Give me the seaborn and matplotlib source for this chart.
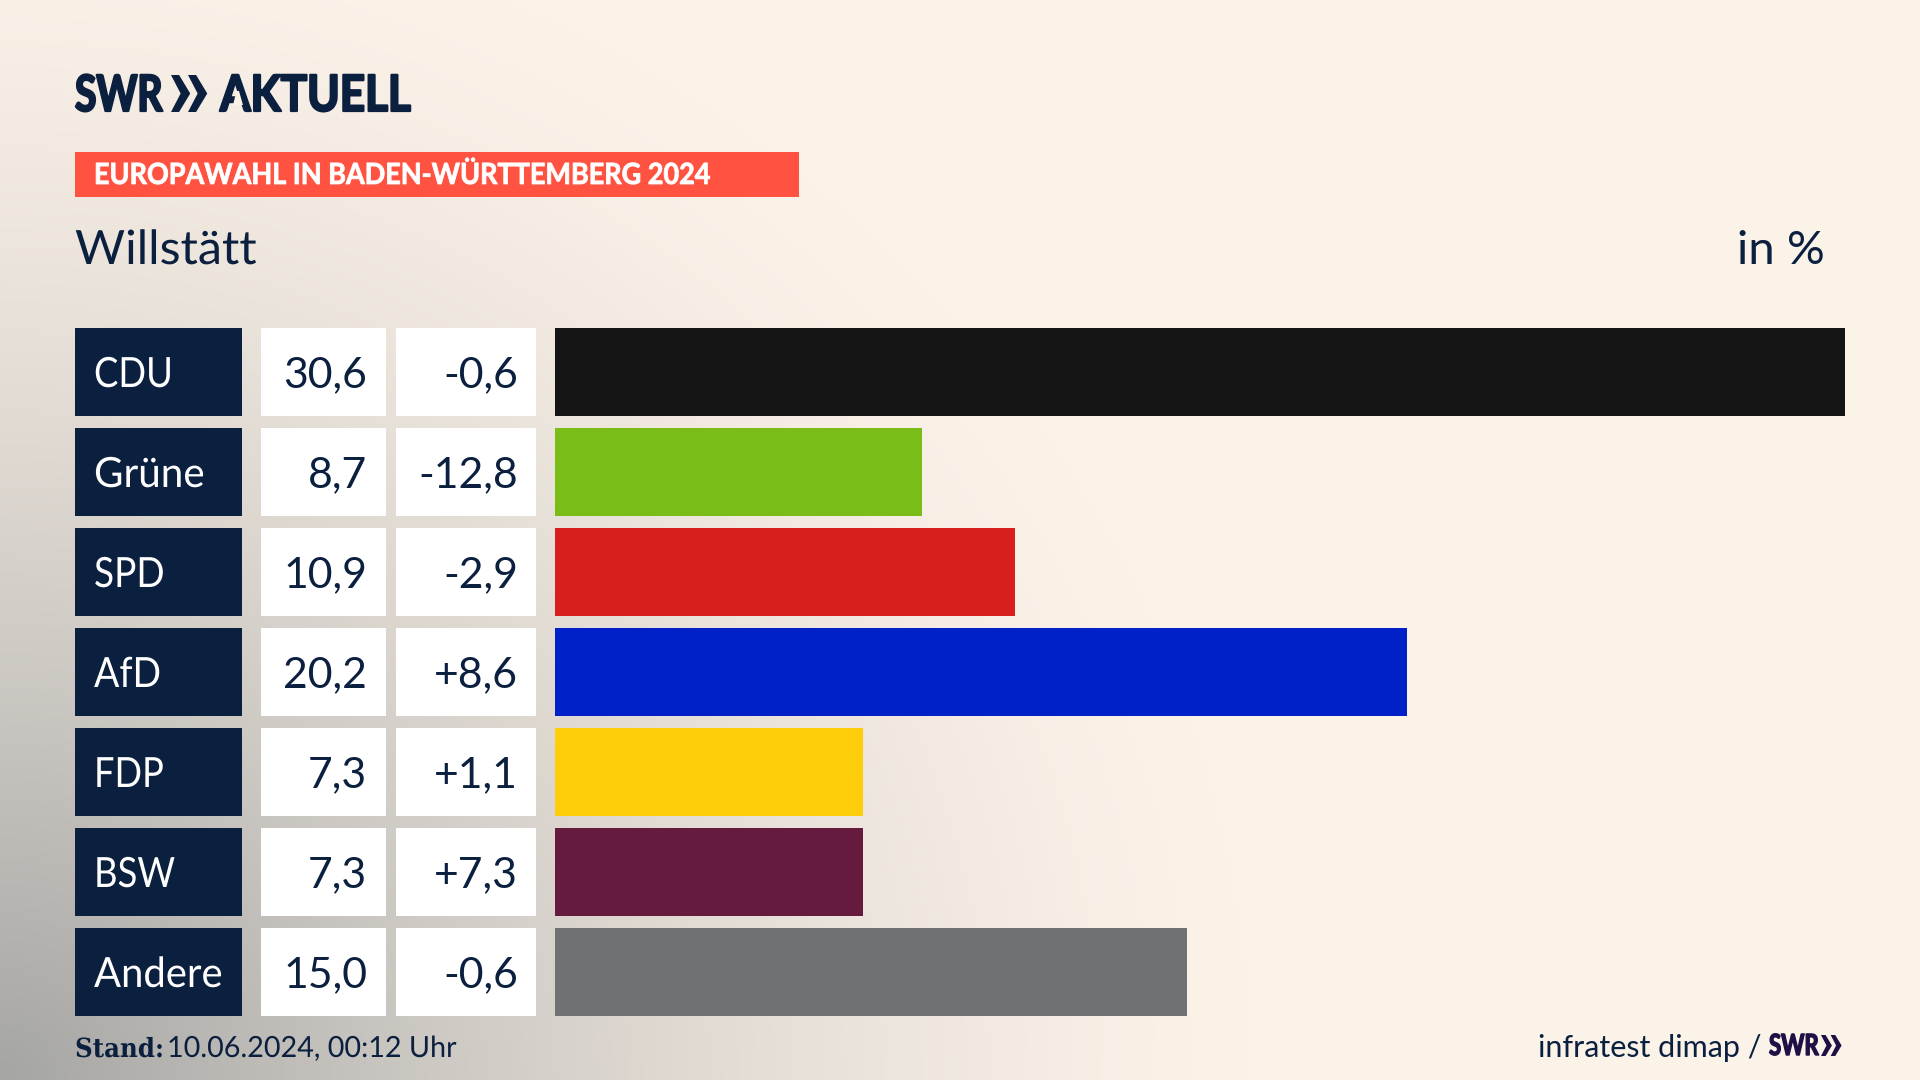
"""Europawahl Willstaett: Balken mit Tabelle links."""
import matplotlib

matplotlib.use("Agg")
import matplotlib.patheffects as pe
import matplotlib.pyplot as plt
from matplotlib.patches import Polygon, Rectangle
from matplotlib.transforms import Affine2D
import numpy as np
import pandas as pd
import seaborn as sns

parties = ["CDU", "Grüne", "SPD", "AfD", "FDP", "BSW", "Andere"]
shares = [30.6, 8.7, 10.9, 20.2, 7.3, 7.3, 15.0]
changes = ["-0,6", "-12,8", "-2,9", "+8,6", "+1,1", "+7,3", "-0,6"]
party_colors = ["#141414", "#7abd19", "#d71f1d", "#0020c8", "#ffce0a", "#651a3e", "#6f7173"]

NAVY = "#0b1f3f"
LOGO = "#1f0f45"
FONT = "Lato"

# Lato ist breiter als die Hausschrift, Versalien brauchen mehr Stauchung
label_squeeze = {"CDU": 0.875, "Grüne": 0.97, "SPD": 0.89, "AfD": 0.9, "FDP": 0.87, "BSW": 0.875, "Andere": 0.96}

sns.set_theme(style="white")
plt.rcParams["font.family"] = [FONT, "DejaVu Sans"]

W, H = 1920, 1080
fig = plt.figure(figsize=(W / 100, H / 100), dpi=100)


class Squeeze(pe.AbstractPathEffect):
    """Staucht Text horizontal um x0 (Pixel), optional mit Kontur fuer mehr Gewicht."""

    def __init__(self, x0, sx, bold=0.0):
        super().__init__()
        self.x0 = x0
        self.sx = sx
        self.bold = bold

    def draw_path(self, renderer, gc, tpath, affine, rgbFace=None):
        scale = Affine2D().translate(-self.x0, 0).scale(self.sx, 1).translate(self.x0, 0)
        gc0 = renderer.new_gc()
        gc0.copy_properties(gc)
        if self.bold:
            gc0.set_linewidth(self.bold)
            gc0.set_foreground(rgbFace)
        renderer.draw_path(gc0, tpath, affine + scale, rgbFace)
        gc0.restore()


# Hintergrund und alles Uebrige in Pixelkoordinaten
bg = fig.add_axes([0, 0, 1, 1])
bg.set_xlim(0, W)
bg.set_ylim(H, 0)
bg.axis("off")

yy, xx = np.mgrid[0:H, 0:W]
dist = np.sqrt((xx / 1250.0) ** 2 + ((H - yy) / 1180.0) ** 2)
t = np.clip(1 - dist, 0, 1)[..., None] ** 1.45
base = np.array([251, 242, 232]) / 255
dark = np.array([165, 165, 163]) / 255
bg.imshow(base * (1 - t) + dark * t, extent=(0, W, H, 0), aspect="auto", zorder=0)


def chevrons(x, y, h, color):
    w = h * 0.52
    for off in (0, h * 0.46):
        pts = [(x + off, y), (x + off + w * 0.42, y), (x + off + w, y + h / 2),
               (x + off + w * 0.42, y + h), (x + off, y + h), (x + off + w * 0.5, y + h / 2)]
        bg.add_patch(Polygon(pts, closed=True, color=color, lw=0, zorder=3))


# Kopf
bg.text(75, 111, "SWR", fontsize=36, fontweight="bold", color=NAVY, va="baseline", zorder=3,
        path_effects=[Squeeze(75, 0.78, bold=1.6)])
chevrons(171, 75, 37, NAVY)
bg.text(220, 111, "AKTUELL", fontsize=36, fontweight="bold", color=NAVY, va="baseline", zorder=3,
        path_effects=[Squeeze(220, 0.88, bold=1.6)])
# Querstrich vom A weg, das Logo hat ein Lambda-A
bg.add_patch(Polygon([(236.5, 91), (239, 91), (243, 105), (233, 105)], closed=True,
                     color="#faf1e7", lw=0, zorder=4))

bg.add_patch(Rectangle((75, 152), 724, 45, color="#ff5240", lw=0, zorder=2))
bg.text(94, 184, "EUROPAWAHL IN BADEN-WÜRTTEMBERG 2024", fontsize=21, fontweight="bold",
        color="white", va="baseline", zorder=3, path_effects=[Squeeze(94, 0.926, bold=0.6)])
bg.text(75, 264, "Willstätt", fontsize=34, color=NAVY, va="baseline",
        path_effects=[Squeeze(75, 1.025)])
bg.text(1825, 264, "in %", fontsize=34, color=NAVY, va="baseline", ha="right")

# Tabelle links
for i, party in enumerate(parties):
    top = 328 + i * 100
    bg.add_patch(Rectangle((75, top), 167, 88, color=NAVY, lw=0, zorder=2))
    bg.add_patch(Rectangle((261, top), 125, 88, color="white", lw=0, zorder=2))
    bg.add_patch(Rectangle((396, top), 140, 88, color="white", lw=0, zorder=2))
    base_y = top + 59
    bg.text(94, base_y, party, fontsize=30, color="white", va="baseline", zorder=3,
            path_effects=[Squeeze(94, label_squeeze[party])])
    bg.text(367, base_y, f"{shares[i]:.1f}".replace(".", ","), fontsize=30.8, color=NAVY,
            va="baseline", ha="right", zorder=3)
    bg.text(518, base_y, changes[i], fontsize=30.8, color=NAVY, va="baseline", ha="right", zorder=3)

# Balken
ax = fig.add_axes([555 / W, 1 - 1022 / H, 1290 / W, 700 / H])
ax.patch.set_alpha(0)
df = pd.DataFrame({"party": parties, "share": shares})
sns.barplot(data=df, x="share", y="party", hue="party", palette=party_colors, width=0.88,
            saturation=1, legend=False, linewidth=0, ax=ax)
ax.set_xlim(0, 30.6)
ax.set_ylim(6.5, -0.5)
ax.axis("off")

# Fusszeile
bg.text(75, 1057, "Stand:", fontsize=19, fontweight="bold", color=NAVY, va="baseline",
        family=["DejaVu Serif"], path_effects=[Squeeze(75, 0.93)])
bg.text(167, 1057, "10.06.2024, 00:12 Uhr", fontsize=21, color=NAVY, va="baseline",
        path_effects=[Squeeze(167, 0.985)])
bg.text(1762, 1057, "infratest dimap /", fontsize=22, color=NAVY, va="baseline", ha="right")
bg.text(1769, 1055, "SWR", fontsize=21, fontweight="bold", color=LOGO, va="baseline",
        path_effects=[Squeeze(1769, 0.76, bold=1.0)])
chevrons(1821, 1035, 21, LOGO)

fig.savefig("out.png", dpi=100)
